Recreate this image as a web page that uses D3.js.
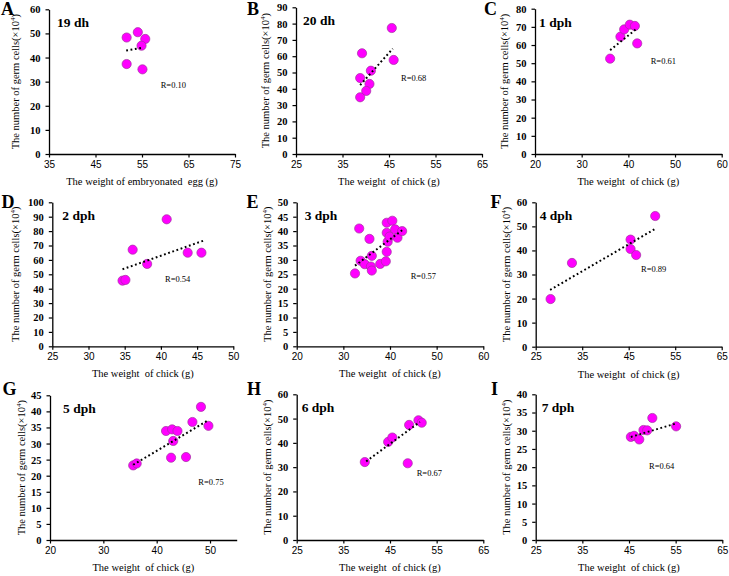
<!DOCTYPE html>
<html><head><meta charset="utf-8">
<script src="https://cdn.jsdelivr.net/npm/d3@7/dist/d3.min.js"></script>
<style>body{margin:0;background:#fff}svg{display:block}</style>
</head><body>
<script>
// ---------- data ----------
const panelIds = ["A","B","C","D","E","F","G","H","I"];
const stageNames = ["19 dh","20 dh","1 dph","2 dph","3 dph","4 dph","5 dph","6 dph","7 dph"];
const rLabels = ["R=0.10","R=0.68","R=0.61","R=0.54","R=0.57","R=0.89","R=0.75","R=0.67","R=0.64"];
const xTitles = ["The weight of embryonated  egg (g)","The weight  of chick (g)","The weight  of chick (g)",
  "The weight  of chick (g)","The weight  of chick (g)","The weight  of chick (g)",
  "The weight  of chick (g)","The weight  of chick (g)","The weight  of chick (g)"];
const yTitleMain = "The number of germ cells(×10";
const yTitleExp = "4";

const xDomains = [[35,75],[25,65],[20,60],[25,50],[20,60],[25,65],[20,55],[25,65],[25,65]];
const xTickValues = [[35,45,55,65,75],[25,35,45,55,65],[20,30,40,50,60],[25,30,35,40,45,50],
  [20,30,40,50,60],[25,35,45,55,65],[20,30,40,50],[25,35,45,55,65],[25,35,45,55,65]];
const yDomains = [[0,60],[0,90],[0,80],[0,100],[0,50],[0,60],[0,45],[0,60],[0,40]];
const yTickValues = [
  [0,10,20,30,40,50,60],[0,10,20,30,40,50,60,70,80,90],[0,10,20,30,40,50,60,70,80],
  [0,10,20,30,40,50,60,70,80,90,100],[0,5,10,15,20,25,30,35,40,45,50],[0,10,20,30,40,50,60],
  [0,5,10,15,20,25,30,35,40,45],[0,10,20,30,40,50,60],[0,5,10,15,20,25,30,35,40]];

const weightA = [51.7,54.1,55.7,54.9,51.7,55.1];
const cellsA  = [48.3,50.5,47.7,44.9,37.3,35.1];
const trendA  = [51.6,42.9,55.1,44.1];
const weightB = [45.6,39.2,46.0,41.1,38.8,40.8,40.1,38.8];
const cellsB  = [77.3,61.8,57.7,51.1,46.6,43.0,38.7,34.8];
const trendB  = [38.8,42.3,45.8,64.6];
const weightC = [36.1,38.3,39.1,40.3,41.4,41.9];
const cellsC  = [52.5,64.6,68.6,71.2,70.5,60.9];
const trendC  = [36.1,57.2,41.6,68.6];
const weightD = [40.8,36.1,34.7,35.1,38.1,43.7,45.6];
const cellsD  = [88.2,67.1,45.6,46.1,57.2,65.0,65.0];
const trendD  = [34.7,53.5,45.85,73.3];
const weightE = [32.5,33.4,33.7,34.6,35.6,36.1,35.9,36.1,37.9,39.3,39.3,39.3,39.1,39.5,39.9,40.5,41.1,41.6,42.6];
const cellsE  = [25.3,40.9,29.7,28.5,37.3,31.4,27.7,26.3,28.6,42.9,39.4,32.8,29.5,36.3,38.1,43.6,40.6,37.7,40.0];
const trendE  = [32.5,28.0,42.7,40.4];
const weightF = [28.2,32.8,45.4,45.4,46.6,50.7];
const cellsF  = [19.8,34.8,44.5,40.6,38.1,54.3];
const trendF  = [28.1,23.6,50.9,49.2];
const weightG = [35.6,36.25,41.75,42.9,43.9,43.1,42.7,45.5,46.7,48.3,49.7];
const cellsG  = [23.2,23.8,33.9,34.4,33.9,30.8,25.6,25.8,36.7,41.4,35.5];
const trendG  = [35.6,23.4,49.4,37.0];
const weightH = [39.6,44.6,45.5,49.1,48.8,51.1,51.8];
const cellsH  = [32.1,40.4,42.2,47.4,31.6,49.3,48.3];
const trendH  = [39.9,32.4,51.4,48.6];
const weightI = [45.4,46.1,47.2,48.1,48.9,50.0,55.1];
const cellsI  = [28.3,28.6,27.6,30.2,30.1,33.5,31.2];
const trendI  = [45.4,28.3,55.1,32.0];

const weights = [weightA,weightB,weightC,weightD,weightE,weightF,weightG,weightH,weightI];
const cells   = [cellsA,cellsB,cellsC,cellsD,cellsE,cellsF,cellsG,cellsH,cellsI];
const trends  = [trendA,trendB,trendC,trendD,trendE,trendF,trendG,trendH,trendI];

// ---------- layout (pixels) ----------
const layout = [
  {l:49,   r:235,   t:9.3,   b:154,   lx:1,    ly:15,    sx:8,  rx:160.7, ry:88.3, yo:-34},
  {l:296,  r:482,   t:7.3,   b:154,   lx:247,  ly:15,    sx:7,  rx:401,   ry:81.3, yo:-31},
  {l:535,  r:721.7, t:8.7,   b:154,   lx:484,  ly:15,    sx:4,  rx:650.7, ry:64.3, yo:-31},
  {l:52.3, r:233.3, t:202.3, b:346.3, lx:1.5,  ly:207.5, sx:10, rx:165,   ry:282.3,yo:-37},
  {l:296.7,r:483.3, t:202.3, b:346.3, lx:246.5,ly:207.5, sx:8,  rx:410.7, ry:279.3,yo:-30},
  {l:535.7,r:721.7, t:202.3, b:346.7, lx:490.5,ly:207.5, sx:4,  rx:641,   ry:272.3,yo:-30},
  {l:50,   r:236.7, t:395.3, b:540,   lx:2.5,  ly:394.5, sx:13, rx:198.3, ry:485,  yo:-29},
  {l:296.7,r:483.3, t:394.3, b:540,   lx:247,  ly:394.5, sx:5,  rx:416.7, ry:476,  yo:-30},
  {l:535.7,r:722.3, t:394.3, b:540,   lx:491,  ly:394.5, sx:6,  rx:649,   ry:469,  yo:-30}
];

const SERIF = "'Liberation Serif','Times New Roman',serif";
const SANS = "'Liberation Sans',Arial,sans-serif";

const svg = d3.select("body").append("svg").attr("width",729).attr("height",576)
  .style("background","#fff");

panelIds.forEach((id,i) => {
  const L = layout[i];
  const x = d3.scaleLinear().domain(xDomains[i]).range([L.l, L.r]);
  const y = d3.scaleLinear().domain(yDomains[i]).range([L.b, L.t]);
  const g = svg.append("g");

  // x axis
  const xa = g.append("g").attr("transform",`translate(0,${L.b})`)
    .call(d3.axisBottom(x).tickValues(xTickValues[i]).tickSize(3.5).tickSizeOuter(0).tickPadding(3));
  xa.select(".domain").attr("stroke","#000").attr("stroke-width",1.3);
  xa.selectAll(".tick line").attr("stroke","#000").attr("stroke-width",1.2);
  xa.selectAll(".tick text").attr("font-family",SANS).attr("font-size",10).attr("fill","#000")
    .attr("dy","0.72em");

  // y axis
  const ya = g.append("g").attr("transform",`translate(${L.l},0)`)
    .call(d3.axisLeft(y).tickValues(yTickValues[i]).tickSize(3.5).tickSizeOuter(0).tickPadding(5));
  ya.select(".domain").attr("stroke","#000").attr("stroke-width",1.3);
  ya.selectAll(".tick line").attr("stroke","#000").attr("stroke-width",1.2);
  ya.selectAll(".tick text").attr("font-family",SERIF).attr("font-size",10.5).attr("fill","#000")
    .attr("font-weight","bold").attr("dy","0.33em");

  // points
  const pts = weights[i].map((w,k) => [w, cells[i][k]]);
  g.append("g").selectAll("circle").data(pts).join("circle")
    .attr("cx",d => x(d[0])).attr("cy",d => y(d[1])).attr("r",4.6)
    .attr("fill","#ff00ff").attr("stroke","#a0329f").attr("stroke-width",0.7);

  // trend line (dotted)
  const t = trends[i];
  g.append("line")
    .attr("x1",x(t[0])).attr("y1",y(t[1])).attr("x2",x(t[2])).attr("y2",y(t[3]))
    .attr("stroke","#000").attr("stroke-width",2).attr("stroke-dasharray","1.8,2.6");

  // panel letter
  svg.append("text").attr("x",L.lx).attr("y",L.ly).text(id)
    .attr("font-family",SERIF).attr("font-size",18).attr("font-weight","bold").attr("fill","#000");

  // stage label
  g.append("text").attr("x",L.l + L.sx).attr("y",L.t + 18).text(stageNames[i])
    .attr("font-family",SERIF).attr("font-size",13.5).attr("font-weight","bold").attr("fill","#000");

  // R label
  g.append("text").attr("x",L.rx).attr("y",L.ry).text(rLabels[i])
    .attr("font-family",SERIF).attr("font-size",8.5).attr("fill","#000");

  // x title
  g.append("text").attr("x",(L.l+L.r)/2).attr("y",L.b + 31).attr("text-anchor","middle")
    .attr("xml:space","preserve")
    .text(xTitles[i]).attr("font-family",SERIF).attr("font-size",10.5).attr("fill","#000");

  // y title
  const cy = (L.t + L.b)/2;
  const yt = g.append("text")
    .attr("transform",`translate(${L.l + L.yo + 4},${cy}) rotate(-90)`)
    .attr("text-anchor","middle").attr("font-family",SERIF).attr("font-size",10.5).attr("fill","#000");
  yt.append("tspan").text(yTitleMain);
  yt.append("tspan").text(yTitleExp).attr("font-size",7).attr("dy",-4);
  yt.append("tspan").text(")").attr("dy",4);
});
</script>
</body></html>
